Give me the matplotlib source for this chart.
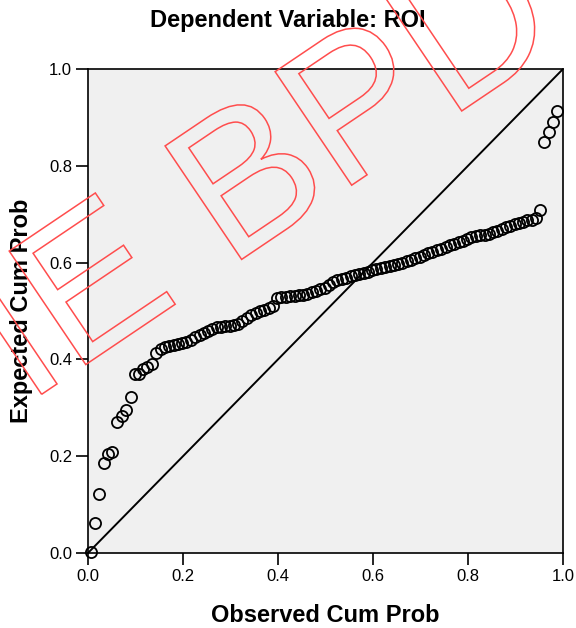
import matplotlib
matplotlib.use("Agg")
from matplotlib import pyplot as plt
from matplotlib.textpath import TextPath
from matplotlib.patches import PathPatch
from matplotlib.transforms import Affine2D
from matplotlib.font_manager import FontProperties

plt.rcParams['font.family'] = ['Liberation Sans', 'DejaVu Sans']

# Observed vs expected cumulative probability
observed = [0.006, 0.015, 0.023, 0.034, 0.042, 0.051, 0.061, 0.071, 0.080, 0.090,
            0.099, 0.107, 0.116, 0.124, 0.134, 0.143, 0.153, 0.162,
            0.171, 0.180, 0.189, 0.198, 0.207, 0.216, 0.225, 0.235, 0.244, 0.253,
            0.262, 0.271, 0.280, 0.289, 0.298, 0.307, 0.316, 0.325, 0.335, 0.344,
            0.353, 0.362, 0.371, 0.380, 0.389, 0.398, 0.407, 0.416, 0.425, 0.435,
            0.444, 0.453, 0.462, 0.471, 0.480, 0.489, 0.498, 0.507, 0.516, 0.525,
            0.535, 0.544, 0.553, 0.562, 0.571, 0.580, 0.589, 0.598, 0.607, 0.616,
            0.625, 0.635, 0.644, 0.653, 0.662, 0.671, 0.680, 0.689, 0.698, 0.707,
            0.716, 0.725, 0.735, 0.744, 0.753, 0.762, 0.771, 0.780, 0.789, 0.798,
            0.807, 0.816, 0.825, 0.835, 0.844, 0.853, 0.862, 0.871, 0.880, 0.889,
            0.898, 0.907, 0.916, 0.925, 0.935, 0.944, 0.951,
            0.960, 0.971, 0.979, 0.987]
expected = [0.002, 0.062, 0.122, 0.186, 0.205, 0.209, 0.271, 0.283, 0.295, 0.322,
            0.370, 0.370, 0.380, 0.384, 0.390, 0.413, 0.421, 0.426,
            0.428, 0.430, 0.432, 0.434, 0.436, 0.440, 0.446, 0.451, 0.455, 0.459,
            0.462, 0.466, 0.467, 0.468, 0.470, 0.471, 0.474, 0.479, 0.486, 0.491,
            0.495, 0.499, 0.503, 0.506, 0.511, 0.526, 0.528, 0.529, 0.531, 0.532,
            0.533, 0.534, 0.535, 0.539, 0.542, 0.545, 0.548, 0.553, 0.559, 0.564,
            0.567, 0.569, 0.572, 0.574, 0.577, 0.579, 0.581, 0.584, 0.586, 0.588,
            0.590, 0.593, 0.595, 0.598, 0.600, 0.603, 0.606, 0.609, 0.612, 0.615,
            0.619, 0.622, 0.626, 0.629, 0.632, 0.636, 0.639, 0.642, 0.645, 0.649,
            0.652, 0.654, 0.656, 0.658, 0.660, 0.663, 0.666, 0.669, 0.673, 0.676,
            0.679, 0.681, 0.684, 0.687, 0.689, 0.692, 0.709,
            0.849, 0.870, 0.890, 0.913]

ticks = [0.0, 0.2, 0.4, 0.6, 0.8, 1.0]
tick_labels = ['0.0', '0.2', '0.4', '0.6', '0.8', '1.0']

fig = plt.figure(figsize=(5.76, 6.28), dpi=100)
ax = fig.add_axes([88 / 576, 75 / 628, 475 / 576, 484 / 628])
ax.set_facecolor('#f0f0f0')

ax.plot([0, 1], [0, 1], color='black', lw=1.4, zorder=2)
ax.plot(observed, expected, linestyle='none', marker='o', ms=8, mfc='none',
        mec='black', mew=1.3, zorder=3, clip_on=False)

ax.set_xlim(0, 1)
ax.set_ylim(0, 1)
ax.set_xticks(ticks)
ax.set_xticklabels(tick_labels)
ax.set_yticks(ticks)
ax.set_yticklabels(tick_labels)
ax.tick_params(direction='out', length=8.5, width=1.2, labelsize=12, pad=3,
               colors='black')
for s in ax.spines.values():
    s.set_linewidth(1.2)

fig.text(0.5, 1 - 20 / 628, 'Dependent Variable: ROI', ha='center', va='center',
         fontsize=17, fontweight='bold')
fig.text(325 / 576, 1 - 615 / 628, 'Observed Cum Prob', ha='center', va='center',
         fontsize=17, fontweight='bold')
fig.text(22 / 576, 1 - 311 / 628, 'Expected Cum Prob', ha='center', va='center',
         rotation=90, fontsize=17, fontweight='bold')

# watermark stamped across the image (only part of it is inside the frame)
tp = TextPath((0, 0), 'IE BPD', size=199, prop=FontProperties(family='Liberation Sans'))
wm = PathPatch(tp, fc='none', ec='#ff4d4d', lw=1.1, zorder=20,
               transform=Affine2D().rotate_deg(34).translate(26.4, 628 - 404.6))
fig.add_artist(wm)

fig.savefig('out.png', dpi=100)
